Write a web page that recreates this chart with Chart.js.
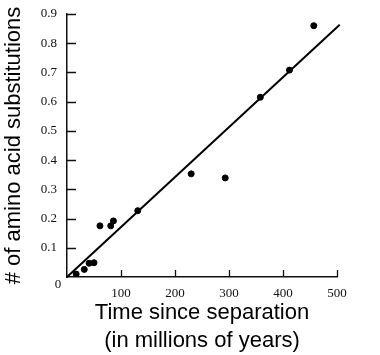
<!DOCTYPE html>
<html>
<head>
<meta charset="utf-8">
<script src="https://cdn.jsdelivr.net/npm/chart.js@4/dist/chart.umd.min.js"></script>
<style>
html,body{margin:0;padding:0;background:#fff;}
canvas{display:block;}
</style>
</head>
<body>
<canvas id="c" width="380" height="355"></canvas>
<script>
// Data
const timeMy = [17, 32, 41, 50, 61, 81, 86, 131, 230, 293, 358, 412, 457];
const substitutions = [0.01, 0.026, 0.047, 0.049, 0.175, 0.175, 0.192, 0.227, 0.353, 0.339, 0.615, 0.708, 0.86];
const fitX = [0, 505];
const fitY = [0, 0.863];
const xTicks = [0, 100, 200, 300, 400, 500];
const yTicks = [0, 0.1, 0.2, 0.3, 0.4, 0.5, 0.6, 0.7, 0.8, 0.9];

const pts = timeMy.map((t, i) => ({x: t, y: substitutions[i]}));
const fit = fitX.map((t, i) => ({x: t, y: fitY[i]}));

const inwardTicks = {
  id: 'inwardTicks',
  afterDraw(chart) {
    const ctx = chart.ctx;
    const xs = chart.scales.x, ys = chart.scales.y;
    const x0 = xs.getPixelForValue(0), y0 = ys.getPixelForValue(0);
    ctx.save();
    ctx.strokeStyle = '#111';
    ctx.lineWidth = 1.3;
    ctx.beginPath();
    yTicks.forEach(v => {
      if (v === 0) return;
      const y = Math.round(ys.getPixelForValue(v)) + 0.5;
      ctx.moveTo(x0, y); ctx.lineTo(x0 + 9, y);
    });
    xTicks.forEach(v => {
      if (v === 0) return;
      const x = Math.round(xs.getPixelForValue(v)) + 0.5;
      ctx.moveTo(x, y0); ctx.lineTo(x, y0 - 7);
    });
    ctx.stroke();
    ctx.fillStyle = '#111';
    ctx.font = '13px "Liberation Serif"';
    ctx.textAlign = 'center';
    ctx.textBaseline = 'middle';
    ctx.fillText('0', x0 - 9, y0 + 8);
    ctx.restore();
  }
};

new Chart(document.getElementById('c'), {
  type: 'scatter',
  data: {
    datasets: [
      {
        data: pts,
        backgroundColor: '#000',
        borderColor: '#000',
        pointRadius: 3,
        pointHoverRadius: 3
      },
      {
        type: 'line',
        data: fit,
        borderColor: '#000',
        borderWidth: 2,
        pointRadius: 0,
        fill: false,
        clip: false
      }
    ]
  },
  options: {
    responsive: false,
    animation: false,
    devicePixelRatio: 1,
    events: [],
    layout: {padding: {top: 14, right: 43, left: 0, bottom: 0}},
    plugins: {legend: {display: false}, tooltip: {enabled: false}},
    scales: {
      x: {
        type: 'linear',
        min: 0, max: 500,
        afterBuildTicks: s => { s.ticks = xTicks.map(v => ({value: v})); },
        afterFit: s => { s.height = 78; },
        grid: {display: false},
        border: {display: true, color: '#111', width: 1.5},
        ticks: {
          padding: 1,
          color: '#111',
          font: {family: '"Liberation Serif"', size: 13},
          maxRotation: 0,
          callback: v => v === 0 ? '' : String(v)
        },
        title: {
          display: true,
          text: ['Time since separation', '(in millions of years)'],
          color: '#000',
          font: {family: '"Liberation Sans"', size: 22, lineHeight: 1.27},
          padding: {top: 0, bottom: 0}
        }
      },
      y: {
        type: 'linear',
        min: 0, max: 0.9,
        afterBuildTicks: s => { s.ticks = yTicks.map(v => ({value: v})); },
        afterFit: s => { s.width = 67; },
        grid: {display: false},
        border: {display: true, color: '#111', width: 1.5},
        ticks: {
          padding: 2,
          color: '#111',
          font: {family: '"Liberation Serif"', size: 13},
          callback: v => v === 0 ? '' : v.toFixed(1)
        },
        title: {
          display: true,
          text: '# of amino acid substitutions',
          color: '#000',
          font: {family: '"Liberation Sans"', size: 22, lineHeight: 1.27},
          padding: {top: 0, bottom: 0}
        }
      }
    }
  },
  plugins: [inwardTicks]
});
</script>
</body>
</html>
